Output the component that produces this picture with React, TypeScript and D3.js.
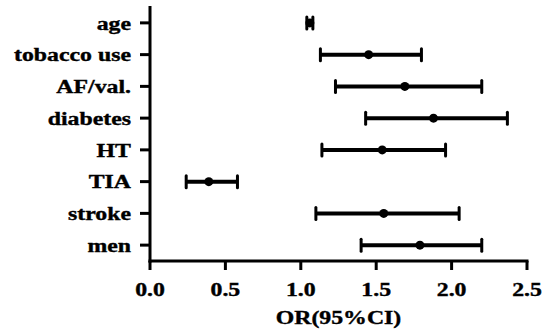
import * as d3 from "d3";

const categories = ["age", "tobacco use", "AF/val.", "diabetes", "HT", "TIA", "stroke", "men"];
const oddsRatio = [1.06, 1.45, 1.69, 1.88, 1.54, 0.39, 1.55, 1.79];
const ciLower = [1.04, 1.13, 1.23, 1.43, 1.14, 0.24, 1.1, 1.4];
const ciUpper = [1.08, 1.8, 2.2, 2.37, 1.96, 0.58, 2.05, 2.2];
const xTicks = [0, 0.5, 1.0, 1.5, 2.0, 2.5];

const width = 544;
const height = 335;
const font = "'Liberation Serif', 'Times New Roman', serif";
const stretch = 1.22;

export default function App() {
  const x = d3.scaleLinear().domain([0, 2.5]).range([150, 527]);
  const y = d3.scalePoint<string>().domain(categories).range([7, 261]).padding(0.5);
  const x0 = x(0);
  const yBottom = 261;

  return (
    <svg
      width={width}
      height={height}
      style={{ position: "absolute", left: 0, top: 0, background: "#fff" }}
      fontFamily={font}
      fontWeight="bold"
    >
      {/* y axis */}
      <line x1={x0} x2={x0} y1={6} y2={yBottom + 1.5} stroke="#000" strokeWidth={3} />
      {categories.map((c) => {
        const yy = y(c) ?? 0;
        return (
          <g key={c}>
            <line x1={x0 - 10} x2={x0} y1={yy} y2={yy} stroke="#000" strokeWidth={3} />
            <text
              transform={`translate(131,${yy}) scale(${stretch},1)`}
              textAnchor="end"
              dy="0.35em"
              fontSize={19.5}
              stroke="#000"
              strokeWidth={0.4}
            >
              {c}
            </text>
          </g>
        );
      })}

      {/* x axis */}
      <line x1={x0 - 1.5} x2={x(2.5) + 1.5} y1={yBottom} y2={yBottom} stroke="#000" strokeWidth={3} />
      {xTicks.map((t) => (
        <g key={t}>
          <line x1={x(t)} x2={x(t)} y1={yBottom} y2={yBottom + 9} stroke="#000" strokeWidth={3} />
          <text
            transform={`translate(${x(t)},${289.5}) scale(${stretch},1)`}
            textAnchor="middle"
            dy="0.35em"
            fontSize={19.5}
            stroke="#000"
            strokeWidth={0.4}
          >
            {t.toFixed(1)}
          </text>
        </g>
      ))}
      <text
        transform={`translate(${(x(0) + x(2.5)) / 2},${317}) scale(${stretch},1)`}
        textAnchor="middle"
        dy="0.35em"
        fontSize={19.5}
        stroke="#000"
        strokeWidth={0.4}
      >
        OR(95%CI)
      </text>

      {/* error bars */}
      {categories.map((c, i) => {
        const yy = y(c) ?? 0;
        return (
          <g key={"e" + c}>
            <line x1={x(ciLower[i])} x2={x(ciUpper[i])} y1={yy} y2={yy} stroke="#000" strokeWidth={4} />
            <line x1={x(ciLower[i])} x2={x(ciLower[i])} y1={yy - 6} y2={yy + 6} stroke="#000" strokeWidth={3} strokeLinecap="round" />
            <line x1={x(ciUpper[i])} x2={x(ciUpper[i])} y1={yy - 6} y2={yy + 6} stroke="#000" strokeWidth={3} strokeLinecap="round" />
            <circle cx={x(oddsRatio[i])} cy={yy} r={4.5} fill="#000" />
          </g>
        );
      })}
    </svg>
  );
}
